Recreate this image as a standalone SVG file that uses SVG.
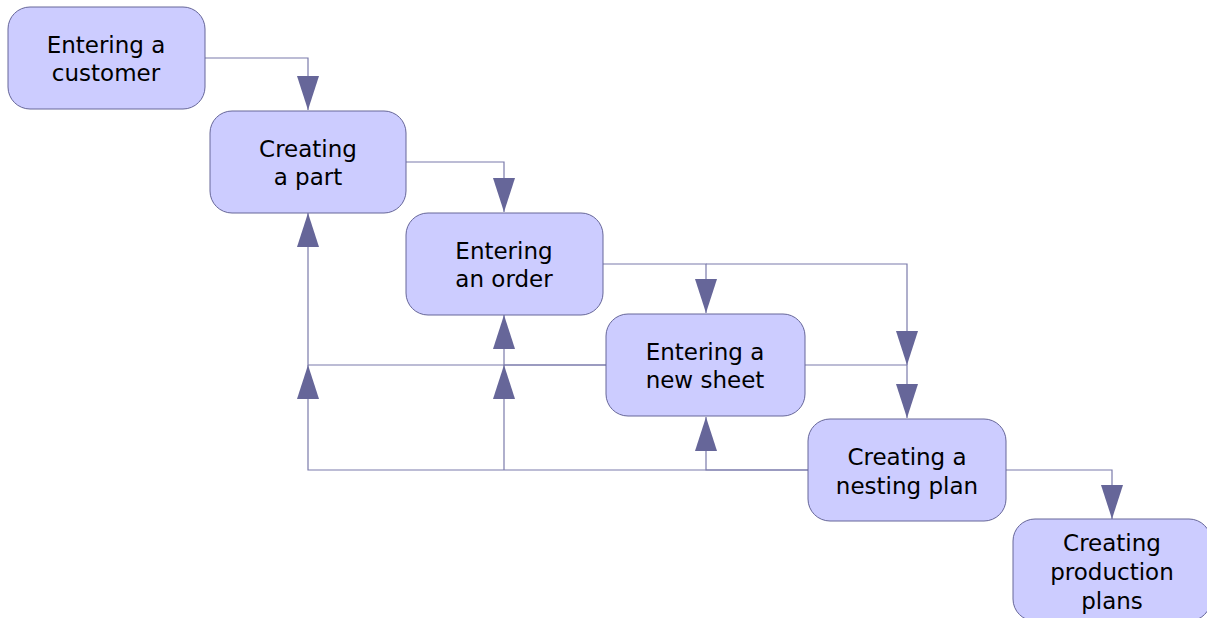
<svg xmlns="http://www.w3.org/2000/svg" width="1207" height="618" viewBox="0 0 1207 618">
<style>
.node rect{fill:#ccccff;stroke:#666699;stroke-width:1}
.node text{font-family:"DejaVu Sans",sans-serif;font-size:23px;fill:#000;text-anchor:middle}
.conn path{fill:none;stroke:#7b7bab;stroke-width:1.2}
</style>
<defs>
<marker id="a" markerUnits="userSpaceOnUse" viewBox="-35 -12 36 24" refX="0" refY="0" markerWidth="36" markerHeight="24" orient="auto">
<path d="M0,0 L-34,-11 L-34,11 Z" fill="#666699"/>
</marker>
</defs>
<rect width="1207" height="618" fill="#fff"/>
<g class="conn" id="connectors">
<path d="M205,58 H308 V110" marker-end="url(#a)"/>
<path d="M406,162 H504 V212" marker-end="url(#a)"/>
<path d="M603,264 H706 V313" marker-end="url(#a)"/>
<path d="M706,264 H907 V365" marker-end="url(#a)"/>
<path d="M805,365 H907 V418" marker-end="url(#a)"/>
<path d="M1006,470 H1112 V519" marker-end="url(#a)"/>
<path d="M606,365 H308 V213" marker-end="url(#a)"/>
<path d="M808,470 H308 V365" marker-end="url(#a)"/>
<path d="M606,365 H504 V315" marker-end="url(#a)"/>
<path d="M504,470 V365" marker-end="url(#a)"/>
<path d="M808,470 H706 V417" marker-end="url(#a)"/>
</g>
<g class="node" id="n1"><rect x="8" y="7" width="197" height="102" rx="22"/><text x="106" y="52.5">Entering a</text><text x="106" y="81">customer</text></g>
<g class="node" id="n2"><rect x="210" y="111" width="196" height="102" rx="22"/><text x="308" y="156.5">Creating</text><text x="308" y="185">a part</text></g>
<g class="node" id="n3"><rect x="406" y="213" width="197" height="102" rx="22"/><text x="504" y="258.5">Entering</text><text x="504" y="287">an order</text></g>
<g class="node" id="n4"><rect x="606" y="314" width="199" height="102" rx="22"/><text x="705" y="359.5">Entering a</text><text x="705" y="388">new sheet</text></g>
<g class="node" id="n5"><rect x="808" y="419" width="198" height="102" rx="22"/><text x="907" y="465">Creating a</text><text x="907" y="493.5">nesting plan</text></g>
<g class="node" id="n6"><rect x="1013" y="519" width="198" height="102" rx="22"/><text x="1112" y="550.5">Creating</text><text x="1112" y="579.5">production</text><text x="1112" y="608.5">plans</text></g>
</svg>
